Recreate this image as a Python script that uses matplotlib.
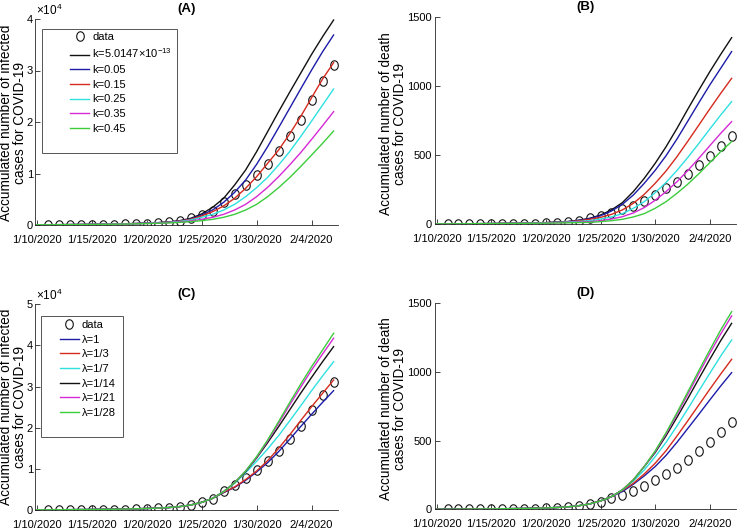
import numpy as np
import matplotlib
matplotlib.use('Agg')
import matplotlib.pyplot as plt
from matplotlib.patches import Rectangle
from matplotlib.path import Path

plt.rcParams['font.family'] = ['Liberation Sans Narrow', 'Liberation Sans', 'DejaVu Sans']
plt.rcParams['mathtext.default'] = 'regular'

# days counted from 1/10/2020
model_days = np.arange(28)
data_days = np.arange(1, 28)
tick_days = [0, 5, 10, 15, 20, 25]
tick_labels = ['1/10/2020', '1/15/2020', '1/20/2020', '1/25/2020', '1/30/2020', '2/4/2020']

infected_data = [41, 41, 41, 41, 41, 45, 62, 121, 198, 291, 440, 571, 830, 1287, 1975,
                 2744, 4515, 5974, 7711, 9692, 11791, 14380, 17205, 20438, 24324, 28018, 31161]
death_data = [1, 1, 1, 1, 1, 1, 2, 2, 3, 6, 9, 17, 25, 41, 56, 80, 106, 132, 170, 213,
              259, 304, 361, 425, 490, 563, 636]

# (A) infected, varying k
a_k0 = [40, 50, 62, 78, 97, 120, 150, 185, 230, 290, 365, 460, 590, 840, 1290, 2140, 3430,
        5180, 7770, 10680, 14240, 18120, 22000, 25760, 29450, 33140, 36570, 39800]
a_k005 = [40, 50, 62, 78, 97, 120, 148, 182, 225, 282, 355, 445, 570, 790, 1165, 1940, 2910,
          4400, 6340, 8740, 11780, 15210, 18900, 22650, 26400, 30090, 33650, 36890]
a_k015 = [40, 50, 61, 76, 95, 117, 145, 178, 220, 275, 345, 430, 550, 760, 1100, 1750, 2590,
          3690, 5180, 7120, 9380, 11970, 14560, 17670, 21030, 24720, 28350, 31520]
a_k025 = [40, 49, 60, 74, 92, 113, 140, 172, 212, 262, 325, 405, 510, 690, 970, 1490, 2070,
          2910, 4010, 5500, 7250, 9250, 11650, 14240, 17150, 20190, 23300, 26400]
a_k035 = [40, 49, 59, 72, 89, 109, 134, 164, 200, 245, 300, 370, 460, 590, 780, 1100, 1490,
          2070, 2910, 4010, 5500, 7310, 9380, 11650, 14040, 16630, 19290, 22000]
a_k045 = [40, 48, 58, 70, 85, 104, 127, 154, 187, 227, 275, 335, 410, 510, 650, 840, 1100,
          1490, 2070, 2910, 4010, 5500, 7250, 9190, 11330, 13590, 15860, 18250]

# (B) deaths, varying k
b_k0 = [1, 1, 1.5, 2, 2.5, 3, 4, 5, 6, 8, 10, 13, 18, 27, 41, 65, 102, 155, 235, 331, 440,
        561, 694, 835, 972, 1105, 1231, 1352]
b_k005 = [1, 1, 1.5, 2, 2.5, 3, 4, 5, 6, 8, 10, 13, 17, 26, 39, 60, 94, 143, 210, 295, 389,
          496, 617, 748, 880, 1009, 1130, 1251]
b_k015 = [1, 1, 1.5, 2, 2.5, 3, 4, 5, 6, 7.5, 9.5, 12, 16, 23, 34, 48, 70, 102, 150, 215, 295,
          385, 489, 602, 718, 835, 948, 1057]
b_k025 = [1, 1, 1.5, 2, 2.5, 3, 3.5, 4.5, 5.5, 7, 8.5, 11, 14, 18, 24, 36, 51, 75, 114, 162,
          227, 302, 389, 484, 585, 689, 791, 888]
b_k035 = [1, 1, 1.5, 2, 2.5, 3, 3.5, 4, 5, 6, 7.5, 9, 11, 14, 17, 24, 36, 53, 80, 119, 172,
          235, 307, 389, 477, 568, 658, 743]
b_k045 = [1, 1, 1.5, 2, 2.5, 3, 3.5, 4, 4.5, 5.5, 6, 7.5, 9, 10.5, 12, 17, 24, 34, 51, 75,
          114, 162, 223, 290, 365, 445, 525, 598]

# (C) infected, varying lambda
c_l1 = [40, 50, 62, 78, 97, 120, 150, 185, 230, 290, 365, 460, 590, 820, 1215, 1860, 2840,
        4210, 5500, 7200, 9240, 11510, 14180, 17180, 20260, 23260, 26180, 29010]
c_l3 = [40, 50, 62, 78, 97, 120, 150, 185, 230, 290, 365, 460, 590, 820, 1215, 1860, 2840,
        4300, 5600, 7400, 9480, 11990, 14990, 18230, 21720, 25120, 28360, 31600]
c_l7 = [40, 50, 62, 78, 97, 120, 150, 185, 230, 290, 365, 460, 590, 820, 1215, 1860, 2840,
        4460, 6480, 9080, 11830, 14830, 18070, 21640, 25280, 29010, 32580, 36060]
c_l14 = [40, 50, 62, 78, 97, 120, 150, 185, 230, 290, 365, 460, 590, 820, 1215, 1860, 2840,
         4460, 6650, 9320, 12640, 16370, 20260, 24310, 28360, 32250, 36060, 39710]
c_l21 = [40, 50, 62, 78, 97, 120, 150, 185, 230, 290, 365, 460, 590, 820, 1215, 1860, 2840,
         4460, 6650, 9480, 12800, 16775, 21070, 25530, 29820, 34040, 37930, 41740]
c_l28 = [40, 50, 62, 78, 97, 120, 150, 185, 230, 290, 365, 460, 590, 820, 1215, 1860, 2840,
         4460, 6650, 9480, 12970, 17020, 21480, 26100, 30550, 34850, 38900, 42950]

# (D) deaths, varying lambda
d_l1 = [1, 1, 1.5, 2, 2.5, 3, 4, 5, 6, 8, 10, 13, 18, 26, 39, 61, 92, 129, 182, 243, 311,
        393, 488, 590, 692, 796, 898, 995]
d_l3 = [1, 1, 1.5, 2, 2.5, 3, 4, 5, 6, 8, 10, 13, 18, 26, 39, 61, 92, 137, 189, 257, 335,
        427, 534, 646, 760, 874, 985, 1092]
d_l7 = [1, 1, 1.5, 2, 2.5, 3, 4, 5, 6, 8, 10, 13, 18, 26, 39, 61, 92, 141, 205, 286, 383,
        488, 607, 733, 862, 990, 1116, 1233]
d_l14 = [1, 1, 1.5, 2, 2.5, 3, 4, 5, 6, 8, 10, 13, 18, 26, 39, 61, 92, 141, 214, 311, 413,
         536, 670, 808, 951, 1092, 1228, 1354]
d_l21 = [1, 1, 1.5, 2, 2.5, 3, 4, 5, 6, 8, 10, 13, 18, 26, 39, 61, 92, 141, 214, 311, 420,
         549, 692, 840, 990, 1136, 1277, 1408]
d_l28 = [1, 1, 1.5, 2, 2.5, 3, 4, 5, 6, 8, 10, 13, 18, 26, 39, 61, 92, 141, 214, 311, 425,
         558, 704, 857, 1010, 1160, 1306, 1439]

k_labels = ['k=5.0147×10$^{-13}$', 'k=0.05', 'k=0.15', 'k=0.25', 'k=0.35', 'k=0.45']
lam_labels = ['λ=1', 'λ=1/3', 'λ=1/7', 'λ=1/14', 'λ=1/21', 'λ=1/28']

BLACK = '#111111'
BLUE = '#1c1ca8'
RED = '#d42a1e'
CYAN = '#2ee0e0'
MAGENTA = '#d52ad5'
GREEN = '#3ccc3c'

k_colors = [BLACK, BLUE, RED, CYAN, MAGENTA, GREEN]
lam_colors = [BLUE, RED, CYAN, BLACK, MAGENTA, GREEN]

# slightly tall open circle, like MATLAB 'o' in the exported figure
_t = np.linspace(0, 2 * np.pi, 40)
oval = Path(np.column_stack([0.8 * np.cos(_t), np.sin(_t)]), closed=True)

AXC = '#262626'


def setup_axes(ax, ylim, yticks, yticklabels, title, ypad):
    for s in ['top', 'right']:
        ax.spines[s].set_visible(False)
    for s in ['left', 'bottom']:
        ax.spines[s].set_color(AXC)
        ax.spines[s].set_linewidth(0.6)
    ax.set_xlim(-0.15, 27.4)
    ax.set_ylim(*ylim)
    ax.set_xticks(tick_days)
    ax.set_xticklabels(tick_labels)
    ax.set_yticks(yticks)
    ax.set_yticklabels(yticklabels)
    ax.tick_params(direction='in', length=3.5, width=0.6, color=AXC, labelsize=8,
                   labelcolor='black')
    ax.tick_params(axis='x', pad=7)
    ax.tick_params(axis='y', pad=ypad)
    ax.set_title(title, fontsize=9.5, fontweight='bold', pad=5)


def draw(ax, data, curves, colors, labels):
    ax.plot(data_days, data, linestyle='none', marker=oval, markersize=6.8,
            markerfacecolor='none', markeredgecolor=BLACK, markeredgewidth=0.8,
            label='data')
    for y, c, lab in zip(curves, colors, labels):
        ax.plot(model_days, y, color=c, linewidth=1.0, label=lab)


fig = plt.figure(figsize=(7.38, 5.30), dpi=100)
W, H = 738.0, 530.0


def add_ax(left, top, right, bottom):
    return fig.add_axes([left / W, 1 - bottom / H, (right - left) / W, (bottom - top) / H])


axA = add_ax(35, 19, 338, 225)
axB = add_ax(435, 17.3, 736, 224)
axC = add_ax(35, 304.3, 338, 510)
axD = add_ax(435, 303.3, 736, 509.3)

# (A)
draw(axA, infected_data, [a_k0, a_k005, a_k015, a_k025, a_k035, a_k045], k_colors, k_labels)
setup_axes(axA, (0, 40000), [0, 10000, 20000, 30000, 40000], ['0', '1', '2', '3', '4'],
           '(A)', 1.5)
axA.text(0.004, 1.005, '×10$^4$', transform=axA.transAxes, ha='left', va='bottom', fontsize=8.5)

# (B)
draw(axB, death_data, [b_k0, b_k005, b_k015, b_k025, b_k035, b_k045], k_colors, k_labels)
setup_axes(axB, (0, 1500), [0, 500, 1000, 1500], ['0', '500', '1000', '1500'], '(B)', 2.5)

# (C)
draw(axC, infected_data, [c_l1, c_l3, c_l7, c_l14, c_l21, c_l28], lam_colors, lam_labels)
setup_axes(axC, (0, 50000), [0, 10000, 20000, 30000, 40000, 50000],
           ['0', '1', '2', '3', '4', '5'], '(C)', 1.5)
axC.text(0.004, 1.005, '×10$^4$', transform=axC.transAxes, ha='left', va='bottom', fontsize=8.5)

# (D)
draw(axD, death_data, [d_l1, d_l3, d_l7, d_l14, d_l21, d_l28], lam_colors, lam_labels)
setup_axes(axD, (0, 1500), [0, 500, 1000, 1500], ['0', '500', '1000', '1500'], '(D)', 2.5)

# legends with a MATLAB-like wide box
axA.legend(loc='upper left', bbox_to_anchor=((70 - 35) / 303, (225 - 32) / 206),
           frameon=False, fontsize=8, handlelength=1.75, handletextpad=0.25,
           borderpad=0, borderaxespad=0, labelspacing=0.42)
axA.add_patch(Rectangle(((41.7 - 35) / 303, (225 - 153.3) / 206), (176.7 - 41.7) / 303,
                        (153.3 - 29.3) / 206, transform=axA.transAxes, fill=False,
                        edgecolor='#555555', linewidth=0.7, zorder=5))

axC.legend(loc='upper left', bbox_to_anchor=((60 - 35) / 303, (510 - 320) / 205.7),
           frameon=False, fontsize=8, handlelength=1.7, handletextpad=0.25,
           borderpad=0, borderaxespad=0, labelspacing=0.42)
axC.add_patch(Rectangle(((41 - 35) / 303, (510 - 436.7) / 205.7), (123 - 41) / 303,
                        (436.7 - 316) / 205.7, transform=axC.transAxes, fill=False,
                        edgecolor='#555555', linewidth=0.7, zorder=5))

# y labels (two lines, regular sans)
lab_font = dict(fontsize=9.8, rotation=90, ha='center', va='center', linespacing=0.95,
                family=['Liberation Sans', 'DejaVu Sans'])
fig.text(13 / W, 1 - 123 / H, 'Accumulated number of infected\ncases for COVID-19', **lab_font)
fig.text(393 / W, 1 - 124 / H, 'Accumulated number of death\ncases for COVID-19', **lab_font)
fig.text(13 / W, 1 - 407 / H, 'Accumulated number of infected\ncases for COVID-19', **lab_font)
fig.text(393 / W, 1 - 409 / H, 'Accumulated number of death\ncases for COVID-19', **lab_font)

fig.savefig('out.png', dpi=100)
